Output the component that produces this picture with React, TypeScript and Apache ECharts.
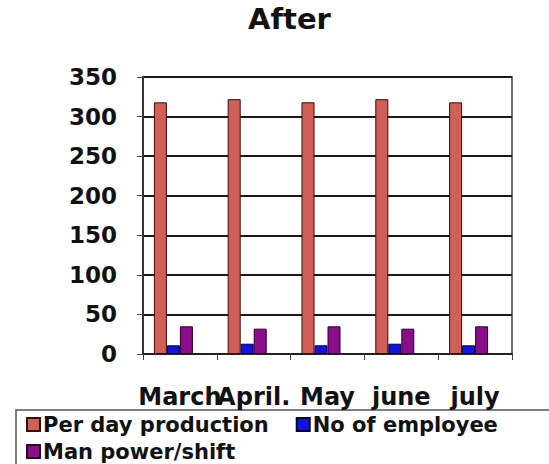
import React, { useEffect, useRef } from "react";
import * as echarts from "echarts";

const categories = ["March", "April.", "May", "june", "july"];
const perDayProduction = [318, 322, 318, 322, 318];
const noOfEmployee = [11, 13, 11, 13, 11];
const manPowerShift = [35, 32, 35, 32, 35];
const yTicks = [0, 50, 100, 150, 200, 250, 300, 350];

const FONT = "DejaVu Sans";

export default function App() {
  const ref = useRef<HTMLDivElement>(null);
  useEffect(() => {
    if (!ref.current) return;
    const chart = echarts.init(ref.current, null, { renderer: "svg" });
    const barBase = {
      type: "bar" as const,
      barWidth: 13,
      barGap: "0%",
    };
    chart.setOption({
      animation: false,
      backgroundColor: "#ffffff",
      title: {
        text: "After",
        left: 248,
        top: 4,
        padding: 0,
        textStyle: { fontFamily: FONT, fontWeight: "bold", fontSize: 29, color: "#111" },
      },
      legend: [
        {
          data: ["Per day production", "No of employee"],
          left: 26,
          top: 414,
          orient: "horizontal",
          itemGap: 27,
          itemWidth: 13,
          itemHeight: 13,
          icon: "rect",
          padding: 0,
          textStyle: { fontFamily: FONT, fontWeight: "bold", fontSize: 21, color: "#111", padding: [0, 0, 0, -2] },
        },
        {
          data: ["Man power/shift"],
          left: 26,
          top: 441,
          itemWidth: 13,
          itemHeight: 13,
          icon: "rect",
          padding: 0,
          textStyle: { fontFamily: FONT, fontWeight: "bold", fontSize: 21, color: "#111", padding: [0, 0, 0, -2] },
        },
      ],
      grid: {
        left: 143,
        right: 37,
        top: 77,
        bottom: 110,
        show: true,
        borderColor: "#6e6e6e",
        borderWidth: 2,
        containLabel: false,
      },
      xAxis: {
        type: "category",
        data: categories,
        axisLine: { lineStyle: { color: "#222", width: 2 } },
        axisTick: { show: true, alignWithLabel: false, length: 6, lineStyle: { color: "#444" } },
        axisLabel: {
          margin: 31,
          interval: 0,
          fontFamily: FONT,
          fontWeight: "bold",
          fontSize: 24,
          color: "#111",
        },
      },
      yAxis: {
        type: "value",
        min: yTicks[0],
        max: yTicks[yTicks.length - 1],
        interval: 50,
        axisLine: { show: true, lineStyle: { color: "#333", width: 2 } },
        axisTick: { show: true, length: 6, lineStyle: { color: "#444" } },
        splitLine: { lineStyle: { color: "#1a1a1a", width: 2 } },
        axisLabel: {
          margin: 26,
          fontFamily: FONT,
          fontWeight: "bold",
          fontSize: 23,
          color: "#111",
        },
      },
      series: [
        {
          ...barBase,
          name: "Per day production",
          data: perDayProduction,
          itemStyle: { color: "#cf5f57", borderColor: "#3a0c0a", borderWidth: 1 },
        },
        {
          ...barBase,
          name: "No of employee",
          data: noOfEmployee,
          itemStyle: { color: "#1414d8", borderColor: "#050540", borderWidth: 1 },
        },
        {
          ...barBase,
          name: "Man power/shift",
          data: manPowerShift,
          itemStyle: { color: "#8a0d8a", borderColor: "#2a022a", borderWidth: 1 },
        },
        {
          ...barBase,
          name: "_spacer",
          data: categories.map(() => null),
          itemStyle: { color: "transparent" },
        },
      ],
      graphic: [
        {
          type: "rect",
          shape: { x: 16, y: 410, width: 600, height: 70 },
          style: { fill: "none", stroke: "#555", lineWidth: 1.5 },
          silent: true,
        },
      ],
    });
    return () => chart.dispose();
  }, []);
  return <div ref={ref} style={{ width: 549, height: 464, position: "absolute", left: 0, top: 0 }} />;
}
